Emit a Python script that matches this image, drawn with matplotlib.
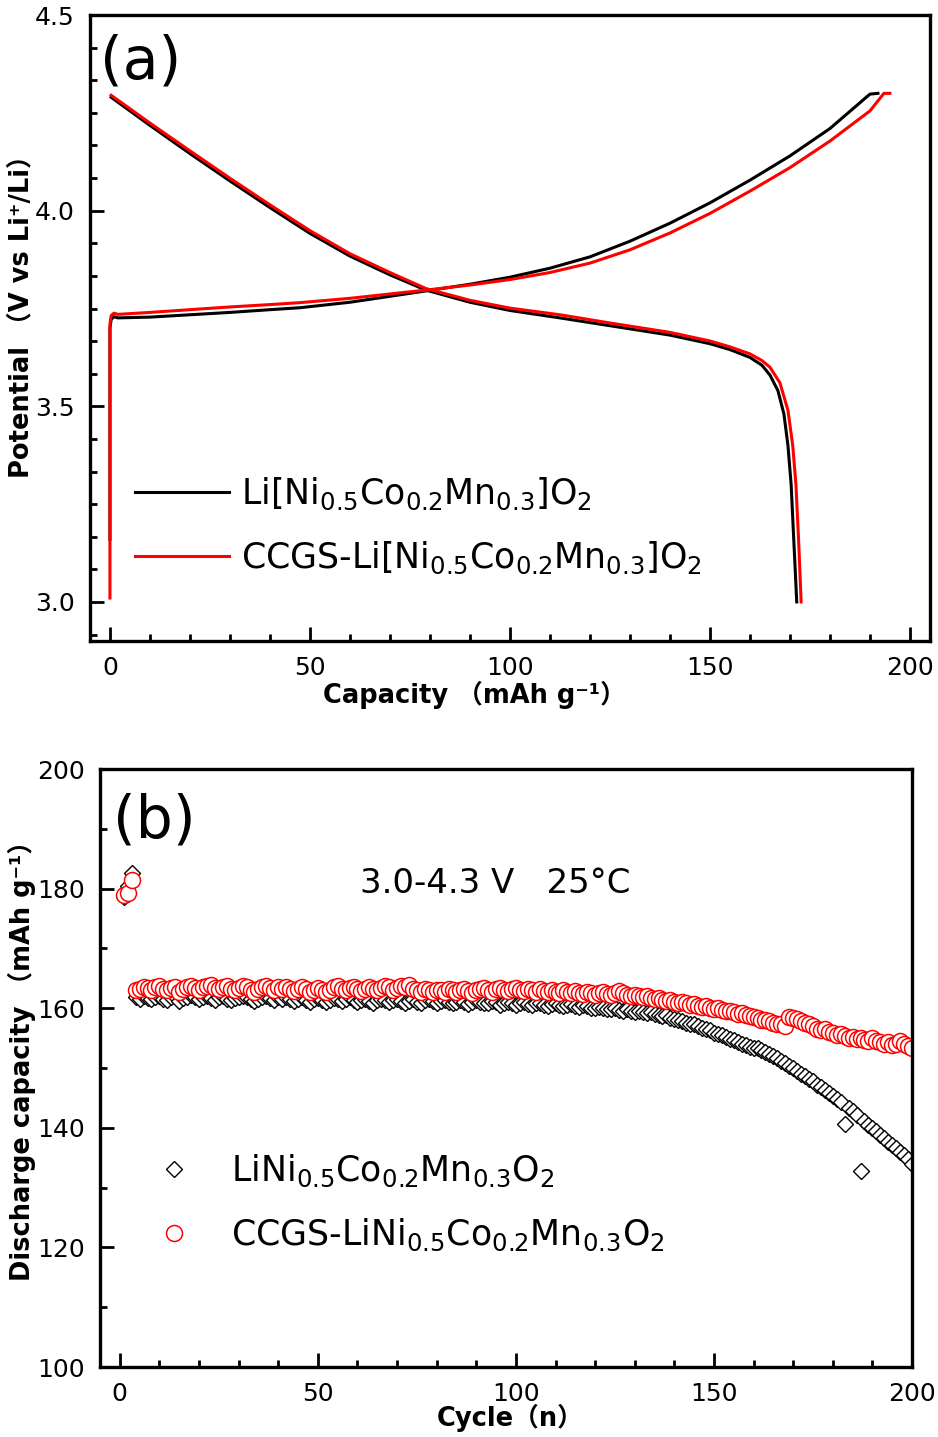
import numpy as np
import matplotlib
matplotlib.use("Agg")
import matplotlib.pyplot as plt
from matplotlib.ticker import MultipleLocator, AutoMinorLocator

plt.rcParams['font.family'] = ['DejaVu Sans', 'Noto Sans CJK SC']
plt.rcParams['mathtext.fontset'] = 'dejavusans'

# --- panel (a): charge / discharge curves ---
cap_chg_blk = [0, 0, 0.3, 1, 2, 10, 20, 30, 40, 47.5, 60, 72.5, 79, 90, 100, 110, 120,
               130, 140, 150, 160, 170, 180, 190, 192]
v_chg_blk = [3.16, 3.70, 3.722, 3.729, 3.726, 3.728, 3.734, 3.740, 3.747, 3.752, 3.766,
             3.785, 3.795, 3.812, 3.830, 3.853, 3.882, 3.922, 3.968, 4.020, 4.078,
             4.140, 4.210, 4.298, 4.300]

cap_chg_red = [0, 0, 0.3, 1, 2, 10, 20, 30, 40, 47.5, 60, 72.5, 79, 90, 100, 110, 120,
               130, 140, 150, 160, 170, 180, 190, 193.5, 195]
v_chg_red = [3.01, 3.71, 3.732, 3.738, 3.735, 3.740, 3.747, 3.754, 3.760, 3.765, 3.776,
             3.790, 3.797, 3.810, 3.824, 3.842, 3.866, 3.900, 3.943, 3.993, 4.050,
             4.110, 4.178, 4.255, 4.300, 4.300]

cap_dis_blk = [0.3, 10, 20, 30, 40, 50, 60, 70, 79, 90, 100, 112.5, 125, 140, 150,
               155, 160, 163, 165, 167, 168.5, 169.5, 170.3, 171, 171.7]
v_dis_blk = [4.290, 4.218, 4.146, 4.076, 4.008, 3.942, 3.884, 3.836, 3.797,
             3.766, 3.745, 3.726, 3.706, 3.682, 3.660, 3.645, 3.625, 3.605, 3.580,
             3.540, 3.480, 3.400, 3.300, 3.150, 3.000]

cap_dis_red = [0.3, 10, 20, 30, 40, 50, 60, 70, 79, 90, 100, 112.5, 125, 140, 150,
               155, 160, 163, 165, 167.5, 169.5, 170.7, 171.5, 172.2, 172.8]
v_dis_red = [4.295, 4.224, 4.153, 4.083, 4.015, 3.949, 3.890, 3.842, 3.801,
             3.771, 3.751, 3.734, 3.713, 3.689, 3.667, 3.652, 3.634, 3.617, 3.600,
             3.560, 3.490, 3.400, 3.300, 3.150, 3.000]

# --- panel (b): cycling ---
cycles = np.arange(1, 201)
cap_blk = [
    178.6, 180.4, 182.6,
    161.8, 161.6, 162.0, 161.7, 161.5, 161.9, 162.1, 161.6, 161.4, 161.8, 162.0, 161.2,
    161.7, 161.9, 162.2, 161.8, 161.5,
    161.9, 162.1, 161.7, 161.4, 161.8, 162.0, 161.6, 161.3, 161.7, 161.9, 162.1, 161.8,
    161.5, 161.2, 161.6, 161.9, 162.0, 161.7, 161.4, 161.8,
    161.5, 161.9, 161.6, 161.2, 161.5, 161.8, 161.4, 161.1, 161.5, 161.7, 161.3, 161.0,
    161.4, 161.7, 161.5, 161.2, 161.6, 161.8, 161.4, 161.1,
    161.3, 161.6, 161.2, 160.9, 161.3, 161.6, 161.4, 161.0, 161.3, 161.5, 161.2, 160.8,
    161.2, 161.5, 161.1, 160.9, 161.3, 161.5, 161.2, 160.9,
    161.2, 161.4, 161.0, 160.8, 161.1, 161.3, 161.0, 160.7, 161.0, 161.3, 161.1, 160.8,
    160.9, 161.2, 161.0, 160.6, 160.9, 161.1, 160.8, 160.6,
    160.9, 161.0, 160.7, 160.5, 160.8, 160.9, 160.6, 160.4, 160.7, 160.8, 160.5, 160.3,
    160.6, 160.7, 160.4, 160.2, 160.5, 160.4, 160.1, 160.0,
    160.2, 160.1, 159.8, 159.9, 160.0, 159.7, 159.6, 159.8, 159.5, 159.4, 159.6, 159.3,
    159.2, 159.4, 159.0, 158.9, 158.7, 158.8, 158.4, 158.2,
    158.0, 157.9, 157.6, 157.4, 157.3, 157.0, 156.7, 156.5, 156.3, 155.9, 155.7, 155.6,
    155.2, 154.9, 154.7, 154.4, 154.0, 153.8, 153.5, 153.3,
    153.3, 153.0, 152.7, 152.4, 152.0, 151.6, 151.2, 150.8, 150.4, 150.0, 149.5, 149.0,
    148.6, 148.1, 147.8, 147.2, 146.8, 146.4, 145.8, 145.4,
    144.9, 144.4, 140.6, 143.4, 142.8, 142.2, 132.8, 141.1, 140.5, 139.9, 139.4, 138.8,
    138.3, 137.7, 137.1, 136.6, 136.0, 135.4, 134.8, 134.0,
]
cap_red = [
    179.0, 179.3, 181.4,
    163.0, 163.3, 163.6, 163.4, 163.1, 163.5, 163.7, 163.3, 163.0, 163.4, 163.6, 162.8,
    163.2, 163.5, 163.8, 163.4, 163.1,
    163.5, 163.8, 163.9, 163.4, 163.2, 163.6, 163.8, 163.3, 163.0, 163.4, 163.7, 163.5,
    163.1, 162.8, 163.3, 163.6, 163.8, 163.4, 163.1, 163.5,
    163.2, 163.6, 163.3, 162.9, 163.2, 163.5, 163.2, 162.8, 163.1, 163.4, 163.0, 162.7,
    163.1, 163.5, 163.7, 163.3, 163.0, 163.4, 163.6, 163.2,
    162.9, 163.3, 163.6, 163.3, 163.0, 163.4, 163.7, 163.5, 163.1, 163.4, 163.8, 163.5,
    163.9, 163.3, 163.0, 162.8, 163.2, 163.0, 162.7, 163.1,
    163.0, 162.8, 163.2, 163.0, 162.7, 163.1, 163.3, 162.9, 162.6, 163.0, 163.2, 163.4,
    163.1, 162.8, 163.2, 163.4, 163.1, 162.9, 163.2, 163.4,
    163.1, 162.9, 163.3, 163.0, 162.8, 163.2, 162.9, 162.7, 163.1, 162.8, 162.6, 163.0,
    162.7, 162.5, 162.9, 162.6, 162.4, 162.8, 162.5, 162.3,
    162.6, 162.8, 162.4, 162.2, 162.6, 162.9, 162.5, 162.2, 162.0, 162.3, 162.1, 161.8,
    162.0, 161.7, 161.5, 161.7, 161.4, 161.2, 161.3, 161.0,
    160.9, 161.1, 160.8, 160.6, 160.7, 160.4, 160.2, 160.4, 160.1, 159.9, 160.0, 159.7,
    159.5, 159.6, 159.3, 159.1, 159.2, 158.9, 158.7, 158.6,
    158.3, 158.1, 158.0, 157.8, 157.6, 157.4, 157.3, 157.1, 158.6, 158.4, 158.2, 157.9,
    157.5, 157.3, 157.0, 156.6, 156.3, 156.5, 156.0, 155.8,
    155.5, 155.7, 155.3, 155.0, 155.2, 154.8, 155.1, 154.7, 154.5, 155.0, 154.6, 154.3,
    154.0, 154.4, 153.9, 154.0, 154.6, 154.1, 153.7, 153.4,
]

lab_a_blk = r'$\mathregular{Li[Ni_{0.5}Co_{0.2}Mn_{0.3}]O_2}$'
lab_a_red = r'$\mathregular{CCGS}$-$\mathregular{Li[Ni_{0.5}Co_{0.2}Mn_{0.3}]O_2}$'
lab_b_blk = r'$\mathregular{LiNi_{0.5}Co_{0.2}Mn_{0.3}O_2}$'
lab_b_red = r'$\mathregular{CCGS}$-$\mathregular{LiNi_{0.5}Co_{0.2}Mn_{0.3}O_2}$'

fig = plt.figure(figsize=(9.38, 14.37), dpi=100)
ax1 = fig.add_axes([0.0959, 0.5539, 0.8955, 0.4356])
ax2 = fig.add_axes([0.1066, 0.0487, 0.8657, 0.4161])


def style_axes(ax):
    for sp in ax.spines.values():
        sp.set_linewidth(2.4)
    ax.tick_params(which='both', direction='in', top=False, right=False,
                   width=2.0, labelsize=18, pad=11)
    ax.tick_params(which='major', length=10)
    ax.tick_params(which='minor', length=5)


def place_labels(ax, xpos, ypos):
    ax.xaxis.set_label_coords(*xpos)
    ax.yaxis.set_label_coords(*ypos)
    ax.xaxis.label.set_verticalalignment('center')
    ax.yaxis.label.set_verticalalignment('center')


# (a)
ax1.plot(cap_chg_blk, v_chg_blk, color='black', lw=2.2, label=lab_a_blk)
ax1.plot(cap_dis_blk, v_dis_blk, color='black', lw=2.2)
ax1.plot(cap_chg_red, v_chg_red, color='#ff0000', lw=2.2, label=lab_a_red)
ax1.plot(cap_dis_red, v_dis_red, color='#ff0000', lw=2.2)
ax1.set_xlim(-5, 205)
ax1.set_ylim(2.9, 4.5)
ax1.xaxis.set_major_locator(MultipleLocator(50))
ax1.xaxis.set_minor_locator(AutoMinorLocator(5))
ax1.yaxis.set_major_locator(MultipleLocator(0.5))
ax1.yaxis.set_minor_locator(AutoMinorLocator(6))
style_axes(ax1)
ax1.set_xlabel('Capacity （mAh g⁻¹）', fontsize=18.5, fontweight='bold')
ax1.set_ylabel('Potential （V vs Li⁺/Li）', fontsize=18.5, fontweight='bold')
place_labels(ax1, (0.458, -0.086), (-0.081, 0.529))
ax1.text(0.012, 0.899, '(a)', transform=ax1.transAxes, fontsize=42, va='baseline')
ax1.legend(loc='upper left', bbox_to_anchor=(0.0536, 0.264), frameon=False,
           fontsize=25, handlelength=2.7, handletextpad=0.35, labelspacing=0.8,
           borderpad=0, borderaxespad=0)

# (b)
ax2.plot(cycles, cap_blk, ls='none', marker='D', ms=8.3, mfc='white', mec='black',
         mew=1.0, label=lab_b_blk)
ax2.plot(cycles, cap_red, ls='none', marker='o', ms=11.5, mfc='white', mec='#ff0000',
         mew=1.1, label=lab_b_red)
ax2.set_xlim(-5, 200)
ax2.set_ylim(100, 200)
ax2.xaxis.set_major_locator(MultipleLocator(50))
ax2.xaxis.set_minor_locator(AutoMinorLocator(5))
ax2.yaxis.set_major_locator(MultipleLocator(20))
ax2.yaxis.set_minor_locator(AutoMinorLocator(2))
style_axes(ax2)
ax2.set_xlabel('Cycle（n）', fontsize=18.5, fontweight='bold')
ax2.set_ylabel('Discharge capacity （mAh g⁻¹）', fontsize=18.5, fontweight='bold')
place_labels(ax2, (0.505, -0.085), (-0.096, 0.523))
ax2.text(0.016, 0.885, '(b)', transform=ax2.transAxes, fontsize=42, va='baseline')
ax2.text(0.320, 0.793, '3.0-4.3 V   25°C', transform=ax2.transAxes, fontsize=24.5,
         va='baseline')
ax2.legend(loc='upper left', bbox_to_anchor=(0.048, 0.358), frameon=False,
           fontsize=25, handlelength=2.0, handletextpad=0.66, labelspacing=0.8,
           borderpad=0, borderaxespad=0, numpoints=1)

fig.savefig('out.png', dpi=100)
